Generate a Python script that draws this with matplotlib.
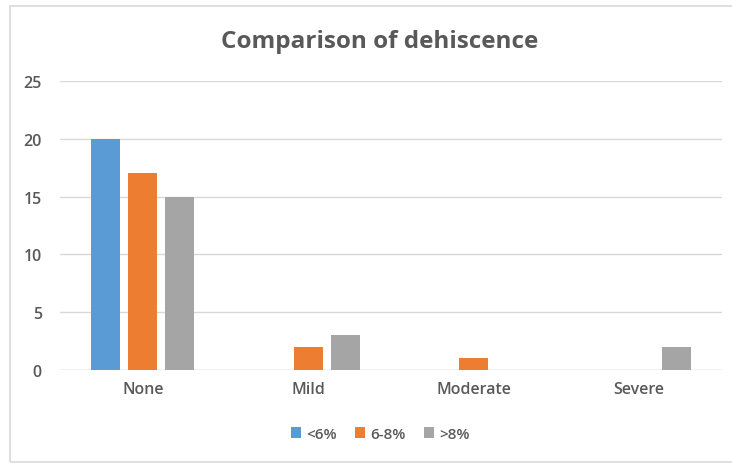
import numpy as np
import matplotlib.pyplot as plt
from matplotlib.patches import Rectangle

categories = ["None", "Mild", "Moderate", "Severe"]
series_names = ["<6%", "6-8%", ">8%"]
low = [20, 0, 0, 0]
mid = [17, 2, 1, 0]
high = [15, 3, 0, 2]
yticks = [0, 5, 10, 15, 20, 25]

colors = ["#5b9bd5", "#ed7d31", "#a5a5a5"]
text_gray = "#595959"
plt.rcParams['font.family'] = ['Open Sans', 'DejaVu Sans']

fig = plt.figure(figsize=(7.32, 4.64), dpi=100)
ax = fig.add_axes([60 / 732, 1 - 371 / 464, 662 / 732, 289 / 464])

x = np.arange(len(categories))
width = 0.176
offset = 0.224
for k, vals in enumerate([low, mid, high]):
    ax.bar(x + (k - 1) * offset, vals, width, color=colors[k], label=series_names[k], zorder=3)

ax.set_xlim(-0.5, len(categories) - 0.5)
ax.set_ylim(0, 25)
ax.set_yticks(yticks)
ax.set_xticks(x)
ax.set_xticklabels(categories)
ax.grid(axis='y', color="#d9d9d9", linewidth=1, zorder=0)
for s in ax.spines.values():
    s.set_visible(False)
ax.tick_params(length=0, colors=text_gray, labelsize=11.5)
for lbl in ax.get_xticklabels() + ax.get_yticklabels():
    lbl.set_fontweight('semibold')
ax.tick_params(axis='y', pad=13)
ax.tick_params(axis='x', pad=8)
ax.axhline(0, color="#d9d9d9", linewidth=1, zorder=2)

fig.text(380 / 732, 1 - 42 / 464, "Comparison of dehiscence", ha='center', va='center',
         fontsize=17.5, fontweight='bold', color=text_gray)

leg = fig.legend(loc='center', bbox_to_anchor=(380 / 732, 1 - 435 / 464), ncol=3, frameon=False,
                 fontsize=11, labelcolor=text_gray, handlelength=0.7, handleheight=0.7,
                 handletextpad=0.3, columnspacing=1.2)
for t in leg.get_texts():
    t.set_fontweight('semibold')

fig.patches.append(Rectangle((10 / 732, 1 / 464), 730 / 732, 456 / 464, transform=fig.transFigure,
                             fill=False, edgecolor="#d9d9d9", linewidth=1.2))

fig.savefig("out.png", dpi=100)
